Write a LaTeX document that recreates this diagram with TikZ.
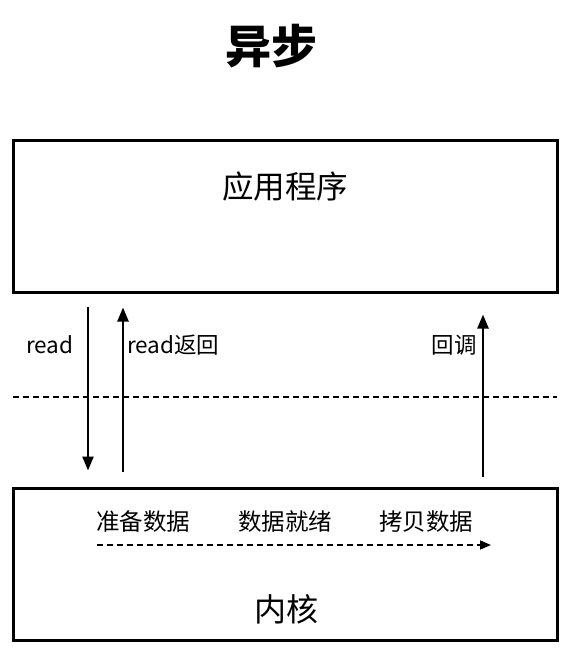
\documentclass[tikz,border=0pt]{standalone}
\usepackage{fontspec}
\setmainfont{Noto Sans CJK SC}
\usetikzlibrary{arrows.meta}

\tikzset{
    box/.style={draw, line width=3pt, minimum width=544pt, inner sep=0pt},
    lbl/.style={inner sep=0pt, font=\fontsize{22.5}{22.5}\selectfont},
    step lbl/.style={inner sep=0pt, font=\fontsize{23.5}{23.5}\selectfont},
    call/.style={line width=2.4pt, -{Triangle[length=14pt, width=11pt]}},
    flow/.style={line width=1.6pt, dash pattern=on 6pt off 4pt, -{Triangle[length=11pt, width=9pt]}},
}

\begin{document}
\begin{tikzpicture}[x=1pt, y=-1pt]
    \useasboundingbox (0,0) rectangle (570,660);

    \node[font=\fontsize{46}{46}\selectfont\bfseries] (title) at (271,46) {异步};

    \node[box, minimum height=151pt] (app) at (285,216.5) {};
    \node[font=\fontsize{31.5}{31.5}\selectfont] (appname) at (285,187) {应用程序};

    \node[box, minimum height=152pt] (kernel) at (285,564) {};
    \node[font=\fontsize{32}{32}\selectfont] (kname) at (286,609) {内核};

    % read / read返回 / 回调
    \draw[call] ([xshift=-197pt, yshift=-13pt]app.south) -- ([xshift=-197pt, yshift=16pt]kernel.north);
    \draw[call] ([xshift=-162pt, yshift=15pt]kernel.north) -- ([xshift=-162pt, yshift=-14pt]app.south);
    \draw[call] ([xshift=198pt, yshift=10pt]kernel.north) -- ([xshift=198pt, yshift=-21pt]app.south);

    \node[lbl] (read) at (50,345) {read};
    \node[lbl, anchor=west] (readback) at (127,345) {read返回};
    \node[lbl, anchor=east] (callback) at (477,345) {回调};

    % user space / kernel space
    \coordinate (sepL) at (13,397);
    \coordinate (sepR) at (557,397);
    \draw[line width=1.5pt, dash pattern=on 6pt off 4pt] (sepL) -- (sepR);

    \node[step lbl] (prep) at (143,522) {准备数据};
    \node[step lbl] (ready) at (285,522) {数据就绪};
    \node[step lbl] (copy) at (426,522) {拷贝数据};

    \coordinate (flowS) at (97,545);
    \coordinate (flowE) at (491,545);
    \draw[flow] (flowS) -- (flowE);
\end{tikzpicture}
\end{document}
